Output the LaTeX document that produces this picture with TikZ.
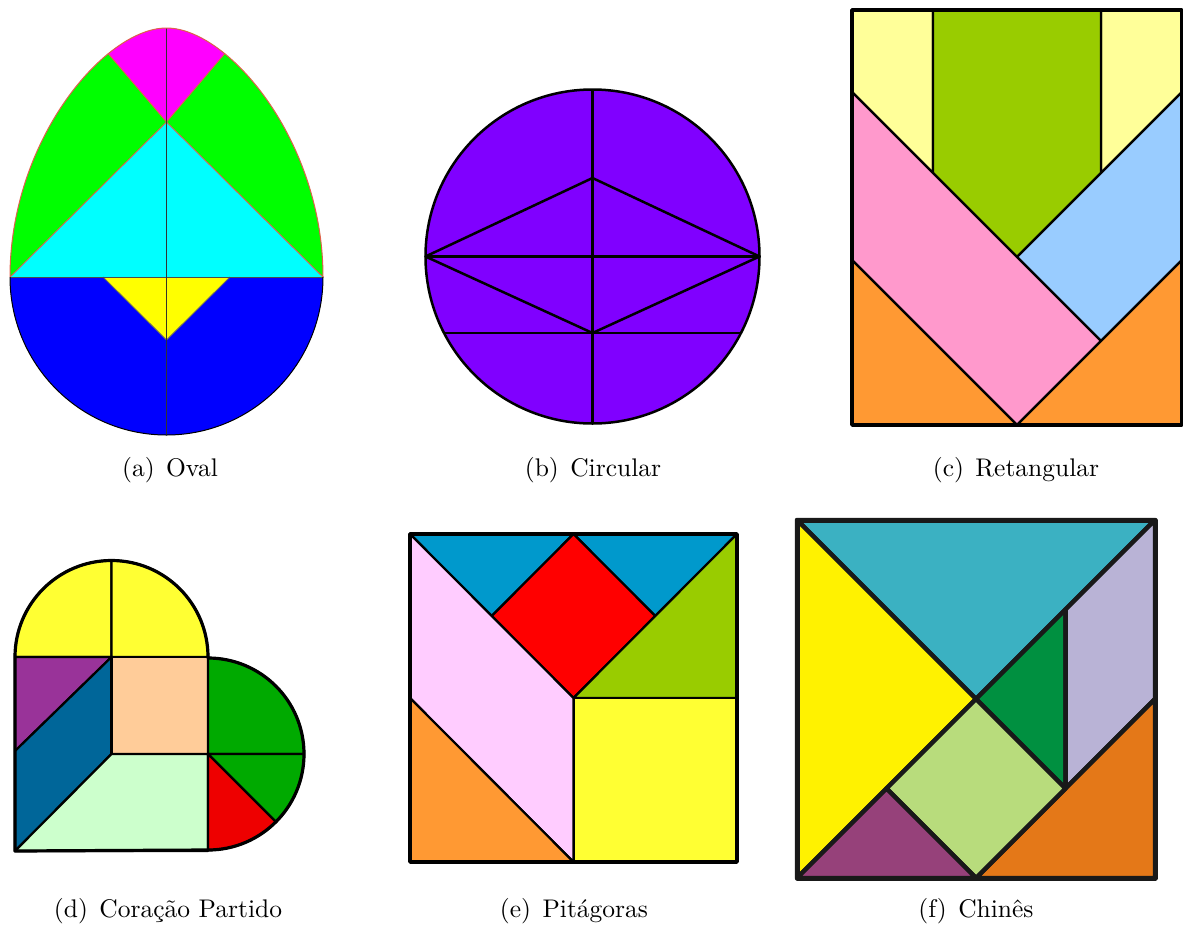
\documentclass[tikz,border=0pt]{standalone}
\usepackage{fontspec}
\newfontfamily\capfont{lmroman10-regular.otf}
\usetikzlibrary{calc}
\definecolor{ovMag}{HTML}{FF00FF}
\definecolor{ovGreen}{HTML}{00FF00}
\definecolor{ovCyan}{HTML}{00FFFF}
\definecolor{ovBlue}{HTML}{0000FF}
\definecolor{ovYellow}{HTML}{FFFF00}
\definecolor{ovLine}{HTML}{E0604A}
\definecolor{ciPurple}{HTML}{8000FF}
\definecolor{reYellow}{HTML}{FFFF99}
\definecolor{reGreen}{HTML}{99CC00}
\definecolor{rePink}{HTML}{FF99CC}
\definecolor{reBlue}{HTML}{99CCFF}
\definecolor{reOrange}{HTML}{FF9933}
\definecolor{coYellow}{HTML}{FFFF33}
\definecolor{coPurple}{HTML}{993399}
\definecolor{coBlue}{HTML}{006699}
\definecolor{coPeach}{HTML}{FFCC99}
\definecolor{coLight}{HTML}{CCFFCC}
\definecolor{coGreen}{HTML}{00AA00}
\definecolor{coRed}{HTML}{EE0000}
\definecolor{piBlue}{HTML}{0099CC}
\definecolor{piRed}{HTML}{FF0000}
\definecolor{piGreen}{HTML}{99CC00}
\definecolor{piPink}{HTML}{FFCCFF}
\definecolor{piOrange}{HTML}{FF9933}
\definecolor{piYellow}{HTML}{FFFF33}
\definecolor{chTeal}{HTML}{3BB1C2}
\definecolor{chYellow}{HTML}{FFF200}
\definecolor{chDark}{HTML}{009040}
\definecolor{chLav}{HTML}{B9B3D6}
\definecolor{chOrange}{HTML}{E47818}
\definecolor{chLight}{HTML}{B8DC7C}
\definecolor{chPurple}{HTML}{96417A}
\tikzset{
  lab/.style={font=\capfont\fontsize{25.5}{30}\selectfont, anchor=base, inner sep=0pt},
  cpiece/.style={draw=black, line width=2.5pt, line join=round},
  epiece/.style={draw=black, line width=2.2pt, line join=round},
  dpiece/.style={draw=black, line width=2.2pt, line join=round},
  fpiece/.style={draw=black!90, line width=4.5pt, line join=round},
  border/.style={draw=black, line width=3.5pt, line join=round},
}
\begin{document}
\begin{tikzpicture}[x=1pt,y=-1pt]
\useasboundingbox (0,0) rectangle (1183,927);
\fill[white] (0,0) rectangle (1183,927);

% ---------- (a) Oval ----------
\def\eggpath{(10,277) .. controls (10,140) and (105,28) .. (166.5,28)
  .. controls (228,28) and (323,140) .. (323,277)
  arc[start angle=0, end angle=180, x radius=156.5, y radius=158] -- cycle}
\begin{scope}
  \clip \eggpath;
  \fill[ovGreen] (0,0) rectangle (340,277);
  \fill[ovMag] (166.5,122) -- (77,17) -- (77,0) -- (256,0) -- (256,17) -- cycle;
  \fill[ovCyan] (10,277) -- (166.5,122) -- (323,277) -- cycle;
  \fill[ovBlue] (0,277) rectangle (340,440);
  \fill[ovYellow] (103,277) -- (230,277) -- (166.5,340) -- cycle;
  \draw[ovLine, line width=0.9pt] (0,287) -- (166.5,122) -- (333,287);
  \draw[ovLine, line width=0.9pt] (77,17) -- (166.5,122) -- (256,17);
  \draw[black!60, line width=0.9pt] (103,277) -- (166.5,340) -- (230,277);
  \draw[black!70, line width=1pt] (0,277) -- (340,277);
  \draw[black!80, line width=1pt] (166.5,0) -- (166.5,440);
\end{scope}
\draw[ovLine, line width=1pt] (10,277) .. controls (10,140) and (105,28) .. (166.5,28)
  .. controls (228,28) and (323,140) .. (323,277);
\draw[black, line width=1pt] (323,277) arc[start angle=0, end angle=180, x radius=156.5, y radius=158];

% ---------- (b) Circular ----------
\fill[ciPurple] (592.5,256.5) circle[radius=167];
\begin{scope}
  \clip (592.5,256.5) circle[radius=167];
  \draw[cpiece] (592.5,80) -- (592.5,430);
  \draw[cpiece] (420,256.5) -- (765,256.5);
  \draw[cpiece] (420,333) -- (765,333);
\end{scope}
\draw[cpiece] (425.5,256.5) -- (592.5,178) -- (759.5,256.5) -- (592.5,333) -- cycle;
\draw[cpiece] (592.5,256.5) circle[radius=167];

% ---------- (c) Retangular ----------
\filldraw[fill=reYellow, epiece] (852,10) -- (933,10) -- (933,173) -- (852,92) -- cycle;
\filldraw[fill=reYellow, epiece] (1101,10) -- (1182,10) -- (1182,92) -- (1101,173) -- cycle;
\filldraw[fill=reGreen, epiece] (933,10) -- (1101,10) -- (1101,173) -- (1017,257) -- (933,173) -- cycle;
\filldraw[fill=reBlue, epiece] (1017,257) -- (1182,92) -- (1182,260) -- (1101,341) -- cycle;
\filldraw[fill=rePink, epiece] (852,92) -- (1101,341) -- (1017,425) -- (852,260) -- cycle;
\filldraw[fill=reOrange, epiece] (852,260) -- (1017,425) -- (852,425) -- cycle;
\filldraw[fill=reOrange, epiece] (1017,425) -- (1182,260) -- (1182,425) -- cycle;
\draw[border] (852,10) rectangle (1182,425);

% ---------- (d) Coracao Partido ----------
\filldraw[fill=coYellow, dpiece] (15,657) arc[start angle=180, end angle=270, radius=96.5] -- (111.5,657) -- cycle;
\filldraw[fill=coYellow, dpiece] (111.5,560.5) arc[start angle=270, end angle=360, radius=96.5] -- (111.5,657) -- cycle;
\filldraw[fill=coPurple, dpiece] (15,657) -- (111.5,657) -- (15,751) -- cycle;
\filldraw[fill=coBlue, dpiece] (111.5,657) -- (111.5,754) -- (15,851) -- (15,751) -- cycle;
\filldraw[fill=coPeach, dpiece] (111.5,657) rectangle (208,754);
\filldraw[fill=coLight, dpiece] (111.5,754) -- (208,754) -- (208,851) -- (15,851) -- cycle;
\filldraw[fill=coGreen, dpiece] (208,754) -- (208,658) arc[start angle=-90, end angle=0, radius=96] -- cycle;
\filldraw[fill=coGreen, dpiece] (208,754) -- (304,754) arc[start angle=0, end angle=45, radius=96] -- cycle;
\filldraw[fill=coRed, dpiece] (208,754) -- ($(208,754)+(45:96)$) arc[start angle=45, end angle=90, radius=96] -- cycle;
\draw[black, line width=3.2pt, line join=round] (15,851) -- (15,657)
  arc[start angle=180, end angle=360, radius=96.5] -- (208,658)
  arc[start angle=-90, end angle=90, radius=96] -- cycle;

% ---------- (e) Pitagoras ----------
\filldraw[fill=piBlue, epiece] (410,534) -- (573.5,534) -- (491.75,616) -- cycle;
\filldraw[fill=piBlue, epiece] (573.5,534) -- (737,534) -- (655.25,616) -- cycle;
\filldraw[fill=piRed, epiece] (573.5,534) -- (655.25,616) -- (573.5,698) -- (491.75,616) -- cycle;
\filldraw[fill=piGreen, epiece] (737,534) -- (737,698) -- (573.5,698) -- cycle;
\filldraw[fill=piYellow, epiece] (573.5,698) rectangle (737,862);
\filldraw[fill=piPink, epiece] (410,534) -- (573.5,698) -- (573.5,862) -- (410,698) -- cycle;
\filldraw[fill=piOrange, epiece] (410,698) -- (573.5,862) -- (410,862) -- cycle;
\draw[border] (410,534) rectangle (737,862);

% ---------- (f) Chines ----------
\filldraw[fill=chTeal, fpiece] (797,520) -- (1155,520) -- (976,699) -- cycle;
\filldraw[fill=chYellow, fpiece] (797,520) -- (976,699) -- (797,878) -- cycle;
\filldraw[fill=chDark, fpiece] (976,699) -- (1065.5,609.5) -- (1065.5,788.5) -- cycle;
\filldraw[fill=chLav, fpiece] (1065.5,609.5) -- (1155,520) -- (1155,699) -- (1065.5,788.5) -- cycle;
\filldraw[fill=chOrange, fpiece] (976,878) -- (1155,699) -- (1155,878) -- cycle;
\filldraw[fill=chLight, fpiece] (976,699) -- (1065.5,788.5) -- (976,878) -- (886.5,788.5) -- cycle;
\filldraw[fill=chPurple, fpiece] (797,878) -- (886.5,788.5) -- (976,878) -- cycle;
\draw[fpiece, line width=5pt] (797,520) rectangle (1155,878);

% ---------- captions ----------
\node[lab] (capa) at (170,476) {(a)\hspace{0.45em}Oval};
\node[lab] (capb) at (593,476) {(b)\hspace{0.45em}Circular};
\node[lab] (capc) at (1016,476) {(c)\hspace{0.45em}Retangular};
\node[lab] (capd) at (168,917) {(d)\hspace{0.45em}Coração Partido};
\node[lab] (cape) at (574,917) {(e)\hspace{0.45em}Pitágoras};
\node[lab] (capf) at (976,917) {(f)\hspace{0.45em}Chinês};
\end{tikzpicture}
\end{document}
